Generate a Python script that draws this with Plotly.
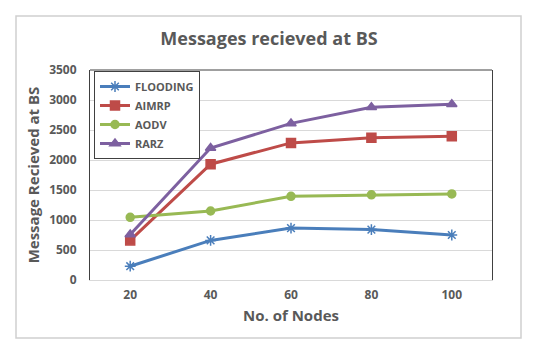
import plotly.graph_objects as go

nodes = ["20", "40", "60", "80", "100"]
flooding = [230, 660, 865, 840, 750]
aimrp = [660, 1930, 2285, 2370, 2395]
aodv = [1045, 1150, 1395, 1420, 1435]
rarz = [760, 2200, 2610, 2880, 2930]

y_ticks = [0, 500, 1000, 1500, 2000, 2500, 3000, 3500]

series = [
    ("FLOODING", flooding, "#4A7EBB", "asterisk-open", 9),
    ("AIMRP", aimrp, "#BE4B48", "square", 9),
    ("AODV", aodv, "#98B954", "circle", 8),
    ("RARZ", rarz, "#7D60A0", "triangle-up", 9),
]

FONT = "Open Sans"
GRAY = "#595959"

fig = go.Figure()
for name, vals, color, sym, size in series:
    fig.add_trace(go.Scatter(
        x=nodes, y=vals, name=name, mode="lines+markers",
        line=dict(color=color, width=3),
        marker=dict(symbol=sym, size=size, color=color,
                    line=dict(color=color, width=1.5)),
    ))

W, H = 550, 358
L, R, T, B = 82, 66, 62, 86
pw, ph = W - L - R, H - T - B

def px(x):
    return (x - L) / pw

def py(y):
    return (H - B - y) / ph

fig.update_layout(
    width=W, height=H,
    margin=dict(l=L, r=R, t=T, b=B),
    paper_bgcolor="white", plot_bgcolor="white",
    font=dict(family=FONT, color=GRAY),
    title=dict(text="<b>Messages recieved at BS</b>", x=px(261), xanchor="center",
               xref="paper", y=1 - 31 / H, yanchor="middle",
               font=dict(size=18, color=GRAY, family=FONT)),
    showlegend=True,
    legend=dict(x=px(86), y=py(63), xanchor="left", yanchor="top",
                bgcolor="white", bordercolor="#404040", borderwidth=1,
                font=dict(size=11, color=GRAY, family=FONT, weight="bold"),
                tracegroupgap=0, itemwidth=30),
    xaxis=dict(
        type="category", range=[-0.5, 4.5],
        showgrid=False, showline=True, linecolor="#D9D9D9", linewidth=1,
        ticks="", ticklabelstandoff=4,
        tickfont=dict(size=12, color=GRAY, family=FONT, weight="bold"),
        title=dict(text="<b>No. of Nodes</b>", font=dict(size=15, color=GRAY, family=FONT),
                   standoff=8),
        zeroline=False,
    ),
    yaxis=dict(
        range=[0, 3500], tickvals=y_ticks,
        showgrid=True, gridcolor="#D9D9D9", gridwidth=1,
        showline=True, linecolor="#404040", linewidth=1, mirror=True,
        ticks="", ticklen=0, ticklabelstandoff=10,
        tickfont=dict(size=12, color=GRAY, family=FONT, weight="bold"),
        title=dict(text="<b>Message Recieved at BS</b>", font=dict(size=15, color=GRAY, family=FONT),
                   standoff=5),
        zeroline=False,
    ),
    shapes=[
        dict(type="line", xref="paper", yref="paper", x0=0, x1=1, y0=1, y1=1,
             line=dict(color="#404040", width=1)),
        dict(type="rect", xref="paper", yref="paper",
             x0=px(8), x1=px(513), y0=py(330), y1=py(8),
             line=dict(color="#D0D0D0", width=1.5), layer="below"),
    ],
)

fig.write_html("out.html")
